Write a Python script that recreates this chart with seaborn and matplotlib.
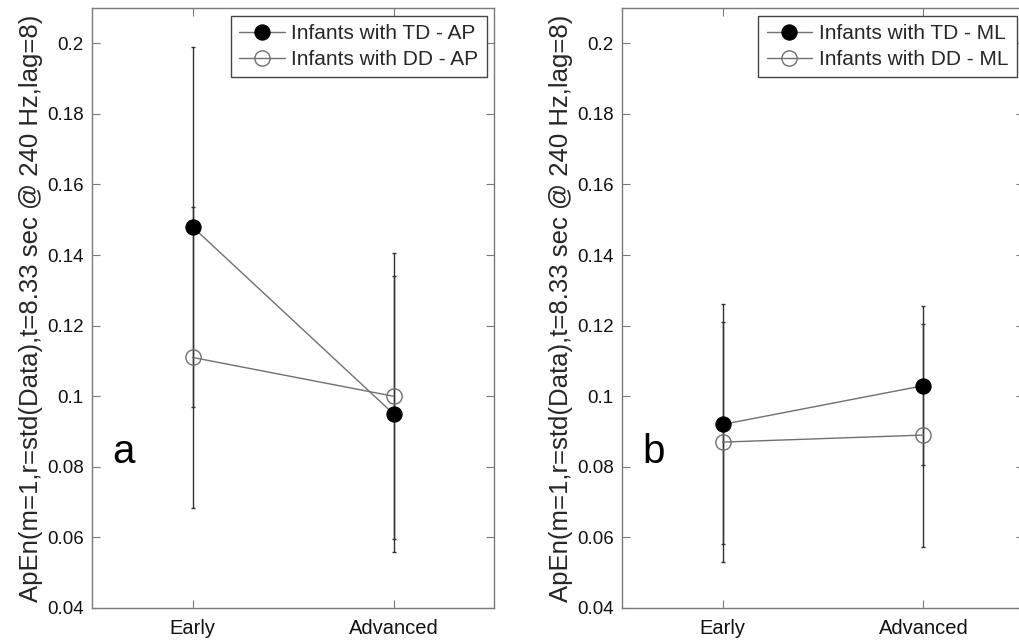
import matplotlib
matplotlib.use("Agg")
import matplotlib.pyplot as plt
import seaborn as sns
import pandas as pd
import numpy as np

stages = ["Early", "Advanced"]

# Panel a (AP)
td_ap_mean = [0.148, 0.095]
td_ap_err = [0.051, 0.039]
dd_ap_mean = [0.111, 0.100]
dd_ap_err = [0.0427, 0.0405]

# Panel b (ML)
td_ml_mean = [0.092, 0.103]
td_ml_err = [0.034, 0.0225]
dd_ml_mean = [0.087, 0.089]
dd_ml_err = [0.034, 0.0316]

panels = [
    ("a", "AP", td_ap_mean, td_ap_err, dd_ap_mean, dd_ap_err),
    ("b", "ML", td_ml_mean, td_ml_err, dd_ml_mean, dd_ml_err),
]

yticks = [0.04, 0.06, 0.08, 0.1, 0.12, 0.14, 0.16, 0.18, 0.2]
ytick_labels = ["0.04", "0.06", "0.08", "0.1", "0.12", "0.14", "0.16", "0.18", "0.2"]
ylabel = "ApEn(m=1,r=std(Data),t=8.33 sec @ 240 Hz,lag=8)"

sns.set_theme(style="white")
plt.rcParams["font.family"] = ["Liberation Sans", "DejaVu Sans"]

W, H = 1019, 642
fig = plt.figure(figsize=(W / 100, H / 100), dpi=100)

ax_px = [(92, 8, 402, 600), (622, 8, 402, 600)]
line_col = "#707070"
err_col = "#333333"
spine_col = "#7a7a7a"

for (letter, comp, tdm, tde, ddm, dde), (x0, y0, w, h) in zip(panels, ax_px):
    ax = fig.add_axes([x0 / W, 1 - (y0 + h) / H, w / W, h / H])
    xpos = np.arange(1, len(stages) + 1)
    df = pd.DataFrame({
        "x": np.concatenate([xpos, xpos]),
        "y": tdm + ddm,
        "group": [f"Infants with TD - {comp}"] * 2 + [f"Infants with DD - {comp}"] * 2,
    })
    # error bars
    ax.errorbar(xpos, tdm, yerr=tde, fmt="none", ecolor=err_col, elinewidth=1.0,
                capsize=1.5, capthick=1.0, zorder=2)
    ax.errorbar(xpos, ddm, yerr=dde, fmt="none", ecolor=err_col, elinewidth=1.0,
                capsize=1.5, capthick=1.0, zorder=2)
    sub_td = df[df["group"].str.contains("TD")]
    sub_dd = df[df["group"].str.contains("DD")]
    sns.lineplot(data=sub_td, x="x", y="y", ax=ax, color=line_col, lw=1.0,
                 marker="o", markersize=11, markerfacecolor="black",
                 markeredgecolor="black", label=f"Infants with TD - {comp}", zorder=3)
    sns.lineplot(data=sub_dd, x="x", y="y", ax=ax, color=line_col, lw=1.0,
                 marker="o", markersize=11, markerfacecolor="none",
                 markeredgecolor=line_col, markeredgewidth=1.0,
                 label=f"Infants with DD - {comp}", zorder=3)

    ax.set_xlim(0.5, 2.5)
    ax.set_ylim(0.04, 0.21)
    ax.set_xticks(xpos)
    ax.set_xticklabels(stages)
    ax.set_yticks(yticks)
    ax.set_yticklabels(ytick_labels)
    ax.set_xlabel("")
    ax.set_ylabel(ylabel, fontsize=18.5, labelpad=3)
    ax.tick_params(direction="in", length=6, width=0.8, color=spine_col,
                   top=True, right=True, bottom=True, left=True,
                   labelsize=13.5, pad=6, labelcolor="#111111")
    ax.tick_params(axis="x", labelsize=14.5, pad=8)
    for s in ax.spines.values():
        s.set_color(spine_col)
        s.set_linewidth(1.0)
    ax.text(0.6, 0.081, letter, fontsize=29, color="black", ha="left", va="baseline")
    leg = ax.legend(loc="upper right", fontsize=15, frameon=True, fancybox=False,
                    framealpha=1, edgecolor="#444444", borderaxespad=0.36,
                    handlelength=2.2, handletextpad=0.3, labelspacing=0.35,
                    borderpad=0.4)
    leg.get_frame().set_linewidth(1.0)

fig.savefig("out.png", dpi=100)
